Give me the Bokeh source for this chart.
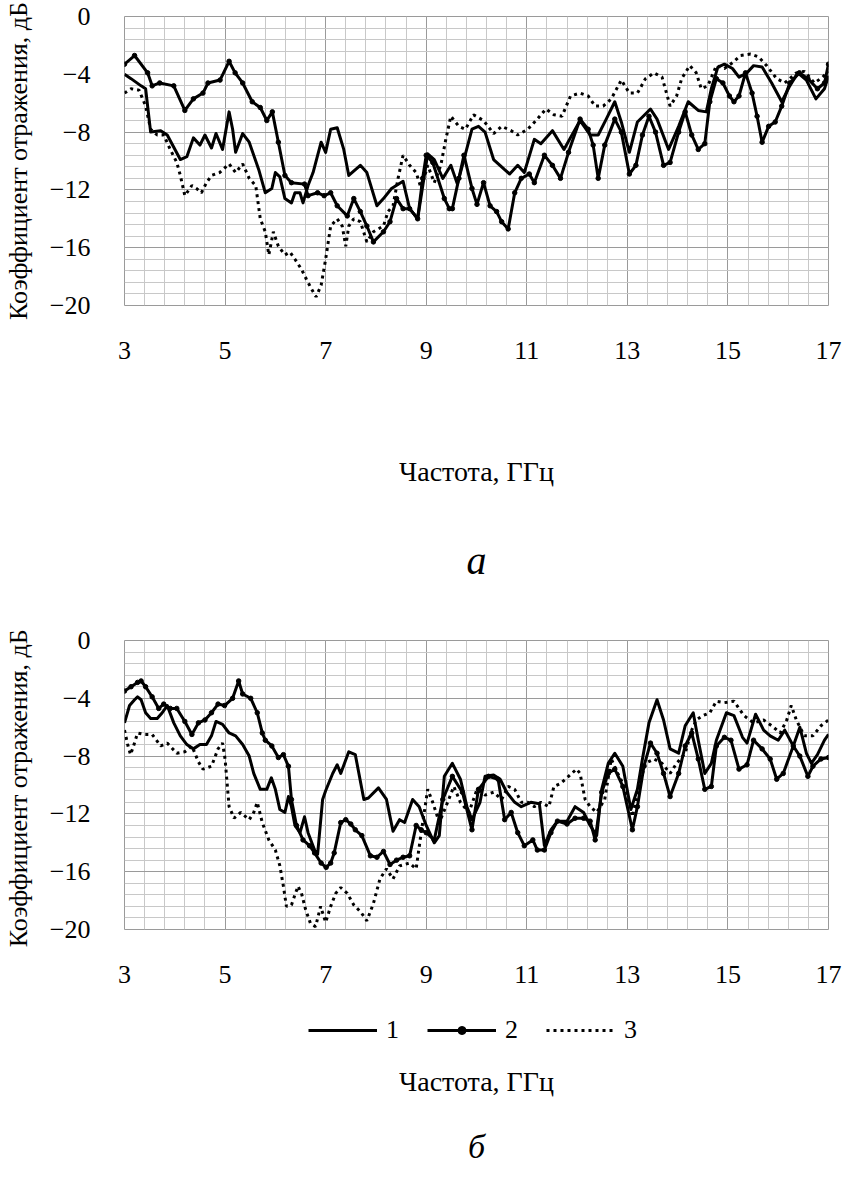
from bokeh.plotting import figure
from bokeh.models import FixedTicker, Label, Legend, LegendItem
from bokeh.layouts import column
from bokeh.embed import file_html
from bokeh.resources import INLINE

FONT = "'Liberation Serif', 'Times New Roman', Times, serif"

X_TICKS = [3, 5, 7, 9, 11, 13, 15, 17]
Y_TICKS = [0, -4, -8, -12, -16, -20]
X_LABEL = "Частота, ГГц"
Y_LABEL_A = "Коэффициент отражения, дБ"
Y_LABEL_B = "Коэффициент отражения,  дБ"
LEGEND_LABELS = ["1", "2", "3"]

# ---------------- chart (а) ----------------
a1_f = [3.0, 3.13, 3.33, 3.42, 3.52, 3.72, 3.85, 4.11, 4.24, 4.37,
        4.5, 4.6, 4.73, 4.82, 4.95, 5.08, 5.15, 5.21, 5.35, 5.48,
        5.67, 5.8, 5.93, 6.0, 6.09, 6.19, 6.32, 6.39, 6.49, 6.55,
        6.65, 6.75, 6.91, 7.0, 7.1, 7.23, 7.36, 7.46, 7.69, 7.82,
        8.02, 8.15, 8.31, 8.54, 8.67, 8.83, 9.03, 9.16, 9.33, 9.49,
        9.62, 9.75, 9.91, 10.04, 10.17, 10.34, 10.56, 10.66, 10.82, 10.95,
        11.15, 11.28, 11.51, 11.74, 11.93, 12.06, 12.26, 12.42, 12.58, 12.75,
        12.88, 13.04, 13.2, 13.46, 13.59, 13.82, 14.02, 14.21, 14.41, 14.57,
        14.67, 14.8, 14.93, 15.09, 15.22, 15.38, 15.51, 15.68, 15.87, 16.07,
        16.23, 16.39, 16.56, 16.75, 16.92, 17.0]
a1_db = [-4.0, -4.3, -4.8, -5.0, -8.0, -7.9, -8.2, -9.9, -9.7, -8.4,
         -8.9, -8.2, -9.1, -8.1, -9.2, -6.6, -7.8, -9.4, -8.1, -8.7,
         -10.6, -12.2, -11.9, -10.8, -11.1, -12.6, -12.9, -12.2, -12.2, -12.9,
         -11.7, -10.8, -8.7, -9.4, -7.8, -7.7, -9.2, -11.0, -10.3, -10.8,
         -13.1, -12.6, -11.9, -11.4, -13.3, -14.0, -9.5, -9.9, -11.2, -10.3,
         -11.6, -9.9, -7.8, -7.6, -8.0, -9.9, -10.6, -10.9, -10.3, -10.8,
         -8.5, -8.8, -7.9, -9.2, -8.0, -7.2, -8.2, -8.2, -7.1, -5.9,
         -7.3, -9.4, -7.3, -6.4, -7.1, -9.2, -7.6, -5.9, -6.5, -6.6,
         -5.0, -3.5, -3.3, -3.6, -4.2, -3.9, -3.4, -3.5, -4.6, -5.9,
         -4.8, -3.9, -4.4, -5.7, -5.0, -4.1]

a2_f = [3.0, 3.2, 3.46, 3.55, 3.7, 3.98, 4.2, 4.37, 4.56, 4.66,
        4.9, 5.08, 5.2, 5.35, 5.54, 5.7, 5.83, 5.94, 6.06, 6.19,
        6.32, 6.58, 6.65, 6.84, 6.97, 7.1, 7.23, 7.43, 7.56, 7.69,
        7.82, 7.95, 8.15, 8.28, 8.41, 8.54, 8.67, 8.83, 8.93, 9.0,
        9.13, 9.36, 9.46, 9.52, 9.65, 9.75, 9.91, 10.01, 10.14, 10.27,
        10.4, 10.5, 10.63, 10.76, 10.89, 11.05, 11.15, 11.35, 11.51, 11.67,
        11.83, 12.06, 12.22, 12.32, 12.42, 12.55, 12.75, 12.88, 13.04, 13.17,
        13.3, 13.43, 13.56, 13.72, 13.85, 14.02, 14.15, 14.28, 14.41, 14.54,
        14.64, 14.77, 14.9, 15.03, 15.12, 15.22, 15.35, 15.48, 15.58, 15.68,
        15.81, 15.94, 16.07, 16.23, 16.42, 16.59, 16.78, 16.92, 17.0]
a2_db = [-3.3, -2.7, -3.9, -4.8, -4.6, -4.8, -6.5, -5.7, -5.3, -4.6,
         -4.4, -3.1, -3.9, -4.6, -5.9, -6.3, -7.2, -6.6, -8.7, -11.0,
         -11.5, -11.6, -12.4, -12.2, -12.4, -12.2, -13.1, -13.8, -12.6, -13.5,
         -14.5, -15.6, -14.9, -14.2, -12.6, -13.3, -13.3, -14.0, -11.2, -9.6,
         -10.1, -12.6, -13.3, -13.3, -11.2, -9.6, -11.9, -13.0, -11.5, -13.1,
         -13.5, -14.2, -14.7, -12.2, -11.2, -10.9, -11.5, -9.6, -10.3, -11.2,
         -9.4, -7.1, -7.8, -8.9, -11.2, -8.9, -7.1, -8.0, -10.9, -10.3,
         -8.2, -6.9, -8.0, -10.3, -10.1, -8.0, -6.6, -8.2, -9.2, -8.8,
         -5.9, -4.3, -4.6, -5.5, -5.9, -5.5, -3.9, -5.3, -6.9, -8.7,
         -7.6, -7.3, -6.2, -4.6, -3.9, -4.3, -5.0, -4.6, -3.3]

a3_f = [3.0, 3.13, 3.29, 3.42, 3.52, 3.65, 3.78, 3.91, 4.04, 4.11,
        4.2, 4.34, 4.43, 4.53, 4.63, 4.73, 4.89, 5.08, 5.21, 5.35,
        5.48, 5.61, 5.7, 5.8, 5.87, 5.96, 6.06, 6.19, 6.29, 6.39,
        6.52, 6.62, 6.71, 6.81, 6.91, 7.0, 7.1, 7.23, 7.33, 7.4,
        7.46, 7.56, 7.69, 7.82, 7.95, 8.15, 8.24, 8.34, 8.44, 8.54,
        8.67, 8.8, 8.9, 9.03, 9.16, 9.29, 9.39, 9.49, 9.65, 9.78,
        9.94, 10.14, 10.34, 10.5, 10.69, 10.82, 11.02, 11.21, 11.38, 11.54,
        11.7, 11.87, 12.06, 12.22, 12.36, 12.52, 12.68, 12.88, 13.04, 13.2,
        13.36, 13.53, 13.69, 13.85, 13.98, 14.08, 14.24, 14.37, 14.47, 14.6,
        14.77, 14.93, 15.09, 15.25, 15.45, 15.61, 15.77, 15.97, 16.13, 16.36,
        16.52, 16.72, 16.88, 17.0]
a3_db = [-5.3, -5.0, -5.1, -6.2, -7.8, -8.2, -8.2, -9.2, -10.1, -11.0,
         -12.4, -11.7, -11.9, -12.2, -11.5, -11.0, -10.8, -10.2, -10.8, -10.2,
         -11.2, -11.7, -14.0, -14.9, -16.5, -14.9, -15.9, -16.5, -16.3, -16.8,
         -17.5, -18.2, -18.8, -19.4, -18.6, -16.8, -14.5, -14.0, -14.5, -15.9,
         -14.5, -14.0, -14.2, -15.6, -14.9, -14.5, -13.5, -13.1, -11.2, -9.6,
         -10.3, -10.8, -11.9, -10.3, -11.5, -10.3, -8.5, -6.9, -7.6, -7.8,
         -6.8, -7.2, -8.1, -7.6, -7.9, -8.2, -7.8, -7.1, -6.4, -6.8,
         -6.9, -5.5, -5.3, -5.5, -6.2, -6.2, -5.7, -4.4, -5.3, -5.3,
         -4.3, -3.9, -4.2, -6.2, -5.5, -4.3, -3.4, -3.9, -5.0, -4.8,
         -3.4, -3.6, -3.2, -2.7, -2.6, -2.8, -3.4, -4.3, -4.6, -3.9,
         -3.8, -4.6, -4.2, -3.8]

# ---------------- chart (б) ----------------
b1_f = [3.0, 3.1, 3.2, 3.26, 3.33, 3.42, 3.52, 3.65, 3.75, 3.85,
        3.98, 4.11, 4.24, 4.37, 4.5, 4.63, 4.73, 4.82, 4.95, 5.08,
        5.21, 5.35, 5.48, 5.57, 5.7, 5.83, 5.92, 6.0, 6.09, 6.19,
        6.26, 6.32, 6.39, 6.49, 6.58, 6.65, 6.78, 6.84, 6.94, 7.0,
        7.14, 7.23, 7.3, 7.46, 7.59, 7.76, 7.85, 8.05, 8.21, 8.34,
        8.47, 8.57, 8.73, 8.86, 9.0, 9.16, 9.26, 9.36, 9.52, 9.68,
        9.81, 9.91, 10.07, 10.17, 10.34, 10.47, 10.6, 10.76, 10.89, 11.08,
        11.25, 11.35, 11.48, 11.61, 11.8, 11.96, 12.13, 12.26, 12.39, 12.49,
        12.62, 12.75, 12.91, 13.07, 13.2, 13.3, 13.43, 13.59, 13.72, 13.85,
        14.02, 14.15, 14.31, 14.41, 14.54, 14.67, 14.77, 14.97, 15.12, 15.29,
        15.38, 15.55, 15.71, 15.84, 16.0, 16.13, 16.3, 16.43, 16.56, 16.66,
        16.78, 16.92, 17.0]
b1_db = [-5.7, -4.5, -4.1, -3.9, -4.1, -5.0, -5.4, -5.4, -5.0, -4.5,
         -5.7, -6.6, -7.2, -7.5, -7.2, -7.2, -6.6, -5.6, -5.8, -6.4,
         -6.6, -7.2, -8.0, -9.2, -10.3, -10.3, -9.5, -10.3, -11.7, -11.9,
         -10.8, -11.5, -12.8, -13.3, -12.2, -13.3, -14.5, -14.8, -11.0, -10.4,
         -9.2, -8.6, -9.2, -7.7, -7.9, -11.0, -10.9, -10.2, -11.0, -13.2,
         -12.4, -12.6, -11.0, -11.5, -12.8, -14.0, -13.5, -9.4, -8.5, -9.6,
         -11.5, -12.4, -11.2, -9.4, -9.3, -9.6, -10.5, -11.2, -11.5, -11.2,
         -11.3, -14.2, -13.1, -12.5, -12.5, -11.5, -11.9, -12.8, -13.5, -10.3,
         -8.5, -7.8, -8.7, -11.7, -10.3, -8.2, -5.7, -4.1, -5.5, -7.5,
         -7.8, -5.9, -5.0, -6.9, -9.2, -8.5, -6.9, -5.0, -5.2, -6.7,
         -7.1, -5.1, -6.2, -6.6, -6.9, -6.2, -7.3, -6.0, -7.8, -8.5,
         -7.9, -6.9, -6.5]

b2_f = [3.0, 3.13, 3.26, 3.33, 3.42, 3.55, 3.68, 3.78, 3.91, 4.04,
        4.2, 4.34, 4.47, 4.6, 4.73, 4.86, 4.99, 5.15, 5.27, 5.35,
        5.51, 5.64, 5.74, 5.8, 5.93, 6.06, 6.16, 6.26, 6.32, 6.42,
        6.55, 6.68, 6.78, 6.91, 7.01, 7.1, 7.17, 7.3, 7.4, 7.5,
        7.59, 7.72, 7.89, 8.02, 8.15, 8.28, 8.41, 8.54, 8.67, 8.8,
        8.9, 9.0, 9.16, 9.33, 9.52, 9.72, 9.91, 10.04, 10.24, 10.43,
        10.56, 10.69, 10.82, 10.95, 11.12, 11.21, 11.35, 11.48, 11.61, 11.8,
        11.96, 12.13, 12.26, 12.36, 12.49, 12.62, 12.75, 12.91, 13.1, 13.2,
        13.33, 13.46, 13.59, 13.72, 13.85, 14.02, 14.15, 14.28, 14.41, 14.54,
        14.67, 14.77, 14.93, 15.06, 15.22, 15.38, 15.51, 15.68, 15.84, 15.97,
        16.1, 16.3, 16.43, 16.59, 16.69, 16.85, 17.0]
b2_db = [-3.5, -3.2, -2.9, -2.8, -3.2, -3.9, -4.7, -4.4, -4.7, -4.7,
         -5.6, -6.5, -5.7, -5.5, -5.0, -4.4, -4.5, -4.0, -2.8, -3.7,
         -4.0, -5.0, -6.4, -6.9, -7.3, -8.1, -7.9, -8.7, -11.0, -12.8,
         -13.8, -14.2, -14.7, -15.4, -15.7, -15.4, -14.7, -12.6, -12.4, -12.7,
         -13.1, -13.5, -14.9, -15.0, -14.6, -15.5, -15.2, -15.0, -14.9, -12.8,
         -13.1, -13.3, -13.8, -11.0, -9.4, -10.5, -13.1, -10.3, -9.4, -9.6,
         -12.4, -11.9, -13.3, -14.2, -13.8, -14.5, -14.5, -13.3, -12.5, -12.7,
         -12.3, -12.3, -12.5, -13.8, -10.5, -9.2, -8.9, -10.1, -13.1, -11.5,
         -8.7, -7.1, -7.8, -9.2, -10.8, -9.2, -7.3, -6.4, -8.2, -10.3,
         -10.1, -7.3, -6.7, -6.9, -8.9, -8.6, -6.9, -7.5, -8.2, -9.6,
         -9.2, -7.3, -8.0, -9.4, -8.7, -8.2, -8.1]

b3_f = [3.0, 3.07, 3.12, 3.18, 3.26, 3.39, 3.55, 3.72, 3.85, 4.04,
        4.2, 4.34, 4.47, 4.56, 4.73, 4.86, 4.95, 5.0, 5.08, 5.18,
        5.31, 5.48, 5.57, 5.64, 5.74, 5.87, 6.0, 6.09, 6.16, 6.22,
        6.32, 6.45, 6.52, 6.6, 6.7, 6.8, 6.9, 7.0, 7.1, 7.2,
        7.3, 7.43, 7.56, 7.7, 7.82, 7.95, 8.08, 8.21, 8.34, 8.47,
        8.67, 8.8, 8.9, 9.03, 9.13, 9.26, 9.39, 9.55, 9.68, 9.85,
        10.01, 10.17, 10.34, 10.5, 10.63, 10.76, 10.89, 11.02, 11.15, 11.28,
        11.44, 11.54, 11.67, 11.83, 11.99, 12.06, 12.16, 12.26, 12.39, 12.55,
        12.68, 12.81, 12.97, 13.1, 13.23, 13.36, 13.53, 13.69, 13.85, 13.98,
        14.15, 14.28, 14.37, 14.5, 14.64, 14.77, 14.93, 15.12, 15.32, 15.51,
        15.71, 15.87, 16.04, 16.17, 16.26, 16.36, 16.52, 16.69, 16.85, 17.0]
b3_db = [-6.2, -7.3, -7.9, -7.3, -6.4, -6.5, -6.5, -7.3, -7.1, -7.8,
         -7.7, -7.3, -8.4, -8.9, -8.7, -7.5, -7.1, -8.2, -11.5, -12.3,
         -11.9, -12.4, -11.9, -11.2, -12.6, -13.8, -14.5, -15.6, -17.0, -18.4,
         -18.3, -17.0, -17.5, -18.6, -19.6, -19.8, -18.4, -19.5, -18.4, -17.5,
         -17.1, -17.5, -18.3, -18.8, -19.4, -18.2, -16.5, -15.8, -16.5, -15.6,
         -15.4, -15.8, -13.3, -10.3, -11.2, -12.6, -11.5, -10.1, -11.2, -11.9,
         -10.3, -10.7, -10.5, -11.0, -10.1, -10.3, -11.2, -11.2, -11.5, -11.2,
         -11.5, -10.1, -9.9, -9.4, -8.9, -9.2, -11.0, -11.5, -11.9, -11.0,
         -8.2, -9.2, -10.3, -12.2, -10.1, -8.5, -8.2, -8.5, -9.2, -8.5,
         -7.8, -6.2, -5.5, -5.2, -5.0, -4.2, -4.3, -4.2, -5.2, -5.7,
         -5.5, -5.9, -6.4, -5.5, -4.5, -5.5, -6.6, -6.6, -5.9, -5.5]

GRID_MAJOR = "#9a9a9a"
GRID_MINOR = "#c8c8c8"
W = 842


def style_series(p, s1, s2, s3):
    r1 = p.line(s1[0], s1[1], line_color="black", line_width=3, line_join="round")
    r2 = p.line(s2[0], s2[1], line_color="black", line_width=3, line_join="round")
    r2d = p.scatter(s2[0], s2[1], size=4.5, fill_color="black", line_color="black")
    r3 = p.line(s3[0], s3[1], line_color="black", line_width=3, line_dash="3 4")
    return r1, r2, r2d, r3


def make_chart(height, top, ylabel, s1, s2, s3):
    p = figure(width=W, height=height, x_range=(3, 17), y_range=(-20, 0),
               output_backend="svg", toolbar_location=None,
               min_border_left=112, min_border_right=14,
               min_border_top=top, min_border_bottom=height - top - 289)
    p.background_fill_color = "white"
    p.border_fill_color = "white"
    p.outline_line_color = GRID_MAJOR
    p.outline_line_width = 1

    p.xaxis.ticker = FixedTicker(ticks=X_TICKS,
                                 minor_ticks=[round(3 + 0.4 * i, 2) for i in range(36)])
    p.yaxis.ticker = FixedTicker(ticks=Y_TICKS,
                                 minor_ticks=[round(-0.8 * i, 2) for i in range(26)])
    for ax in (p.xaxis, p.yaxis):
        ax.axis_line_color = None
        ax.major_tick_line_color = None
        ax.minor_tick_line_color = None
        ax.major_label_text_font = FONT
        ax.major_label_text_font_size = "26px"
        ax.major_label_text_color = "black"
    p.xaxis.major_label_standoff = 30
    p.yaxis.major_label_standoff = 28
    p.yaxis.axis_label = ylabel
    p.yaxis.axis_label_text_font = FONT
    p.yaxis.axis_label_text_font_size = "26px"
    p.yaxis.axis_label_text_font_style = "normal"
    p.yaxis.axis_label_text_color = "black"
    p.yaxis.axis_label_standoff = 14

    for g in (p.xgrid, p.ygrid):
        g.grid_line_color = GRID_MAJOR
        g.grid_line_width = 1
        g.minor_grid_line_color = GRID_MINOR
        g.minor_grid_line_width = 1

    style_series(p, s1, s2, s3)
    return p


def make_caption(height, xlabel_y, tag, tag_y, tag_size, legend_series=None):
    c = figure(width=W, height=height, x_range=(3, 17), y_range=(0, height),
               output_backend="svg", toolbar_location=None,
               x_axis_type=None, y_axis_type=None,
               min_border_left=112, min_border_right=14,
               min_border_top=0, min_border_bottom=0)
    c.outline_line_color = None
    c.xgrid.visible = False
    c.ygrid.visible = False
    c.add_layout(Label(x=10, y=xlabel_y, text=X_LABEL, text_font=FONT,
                       text_font_size="28px", text_align="center",
                       text_baseline="middle", text_color="black"))
    c.add_layout(Label(x=10, y=tag_y, text=tag, text_font=FONT,
                       text_font_size=tag_size, text_font_style="italic",
                       text_align="center", text_baseline="alphabetic",
                       text_color="black"))
    if legend_series is not None:
        # the series' own values lie below this strip's range, so only the key shows
        r1, r2, r2d, r3 = style_series(c, *legend_series)
        legend = Legend(items=[LegendItem(label=LEGEND_LABELS[0], renderers=[r1]),
                               LegendItem(label=LEGEND_LABELS[1], renderers=[r2, r2d]),
                               LegendItem(label=LEGEND_LABELS[2], renderers=[r3])],
                        orientation="horizontal", location="top_center",
                        glyph_width=69, glyph_height=20, label_standoff=9,
                        spacing=21, padding=0, margin=24,
                        label_text_font=FONT, label_text_font_size="26px",
                        label_text_color="black",
                        border_line_color=None, background_fill_alpha=0)
        c.add_layout(legend)
    return c


SA = ((a1_f, a1_db), (a2_f, a2_db), (a3_f, a3_db))
SB = ((b1_f, b1_db), (b2_f, b2_db), (b3_f, b3_db))

pa = make_chart(367, 16, Y_LABEL_A, *SA)
ca = make_caption(225, 121, "а", 32, "40px")
pb = make_chart(399, 48, Y_LABEL_B, *SB)
cb = make_caption(173, 83, "б", 18, "34px", SB)

layout = column(pa, ca, pb, cb, spacing=0)
open("out.html", "w").write(file_html(layout, INLINE))
